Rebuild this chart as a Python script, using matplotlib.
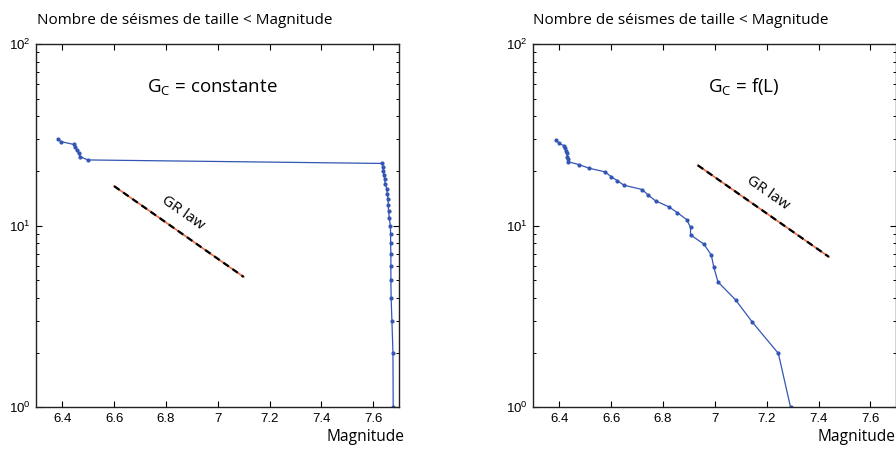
import numpy as np
import matplotlib
matplotlib.use("Agg")
from matplotlib import pyplot as plt

# cumulative counts vs magnitude, G_c constant
mag_const = [6.382, 6.395, 6.444, 6.448, 6.457, 6.463, 6.469, 6.498,
             7.635, 7.637, 7.639, 7.641, 7.644, 7.646, 7.652, 7.654,
             7.657, 7.658, 7.659, 7.662, 7.666, 7.667, 7.667, 7.668,
             7.668, 7.668, 7.669, 7.672, 7.676, 7.677]
count_const = [30, 29, 28, 27, 26, 25, 24, 23,
               22, 21, 20, 19, 18, 17, 16, 15,
               14, 13, 12, 11, 10, 9, 8, 7,
               6, 5, 4, 3, 2, 1]

# cumulative counts vs magnitude, G_c = f(L)
mag_fl = [6.388, 6.398, 6.417, 6.421, 6.426, 6.430, 6.431, 6.432, 6.432,
          6.475, 6.515, 6.575, 6.600, 6.623, 6.649, 6.720, 6.741, 6.771,
          6.822, 6.855, 6.891, 6.906, 6.906, 6.958, 6.986, 6.996, 7.012,
          7.080, 7.144, 7.245, 7.292]
count_fl = [29.6, 28.4, 27.6, 26.7, 25.8, 25.0, 24.0, 23.2, 22.5,
            21.7, 20.7, 19.8, 18.6, 17.7, 16.7, 15.8, 14.8, 13.7,
            12.7, 11.8, 10.8, 9.8, 8.9, 7.9, 6.9, 5.9, 4.9,
            3.9, 2.95, 1.98, 1.0]

# Gutenberg-Richter reference lines (b = 1)
gr_mag_const = [6.6, 7.1]
gr_count_const = [16.5, 5.22]
gr_mag_fl = [6.934, 7.440]
gr_count_fl = [21.5, 6.73]

xticks = [6.4, 6.6, 6.8, 7.0, 7.2, 7.4, 7.6]
xticklabels = ['6.4', '6.6', '6.8', '7', '7.2', '7.4', '7.6']
yticks = [1, 10, 100]
yticklabels = [r'$\mathregular{10^{0}}$', r'$\mathregular{10^{1}}$', r'$\mathregular{10^{2}}$']

line_color = '#3356b4'
tick_font = 'Liberation Sans'
text_font = 'Open Sans'

fig = plt.figure(figsize=(8.96, 4.49), dpi=100)


def setupAxes(ax):
    ax.set_yscale('log')
    ax.set_xlim(6.3, 7.7)
    ax.set_ylim(1, 100)
    ax.set_xticks(xticks)
    ax.set_xticklabels(xticklabels, family=tick_font, fontsize=9.5)
    ax.set_yticks(yticks)
    ax.set_yticklabels(yticklabels, family=tick_font, fontsize=9.5)
    ax.tick_params(which='both', direction='in', top=True, right=True)
    ax.tick_params(which='major', length=4, width=0.8, pad=4)
    ax.tick_params(which='minor', length=2.5, width=0.7)
    ax.yaxis.set_minor_formatter(matplotlib.ticker.NullFormatter())
    for sp in ax.spines.values():
        sp.set_linewidth(1.0)
        sp.set_color('#222222')


def plotPanel(ax, mag, count, gr_mag, gr_count, label, gr_xy, label_xy):
    ax.plot(mag, count, '-', color=line_color, lw=0.9,
            marker='o', markersize=2.0, markerfacecolor=line_color,
            markeredgecolor=line_color)
    ax.plot(gr_mag, gr_count, '-', color='#ee6a45', lw=1.2)
    ax.plot(gr_mag, gr_count, '--', color='black', lw=1.6, dashes=(3, 2))
    ax.text(gr_xy[0], gr_xy[1], 'GR law', rotation=-35, ha='center',
            va='center', family=text_font, fontsize=11,
            rotation_mode='anchor')
    ax.text(label_xy[0], label_xy[1], label, ha='center', va='center',
            family=text_font, fontsize=13.5)
    setupAxes(ax)


ax1 = fig.add_axes([0.0406, 0.0929, 0.4049, 0.8091])
plotPanel(ax1, mag_const, count_const, gr_mag_const, gr_count_const,
          r'$\mathregular{G_C}$ = constante', (6.867, 11.8), (6.978, 58))

ax2 = fig.add_axes([0.5954, 0.0929, 0.4049, 0.8091])
plotPanel(ax2, mag_fl, count_fl, gr_mag_fl, gr_count_fl,
          r'$\mathregular{G_C}$ = f(L)', (7.203, 15.1), (7.110, 58))

title = 'Nombre de séismes de taille < Magnitude'
fig.text(0.041, 0.955, title, family=text_font, fontsize=11, va='center')
fig.text(0.595, 0.955, title, family=text_font, fontsize=11, va='center')
fig.text(0.451, 0.026, 'Magnitude', family=text_font, fontsize=11.2,
         ha='right', va='center')
fig.text(0.999, 0.026, 'Magnitude', family=text_font, fontsize=11.2,
         ha='right', va='center')

fig.savefig('out.png', dpi=100)
